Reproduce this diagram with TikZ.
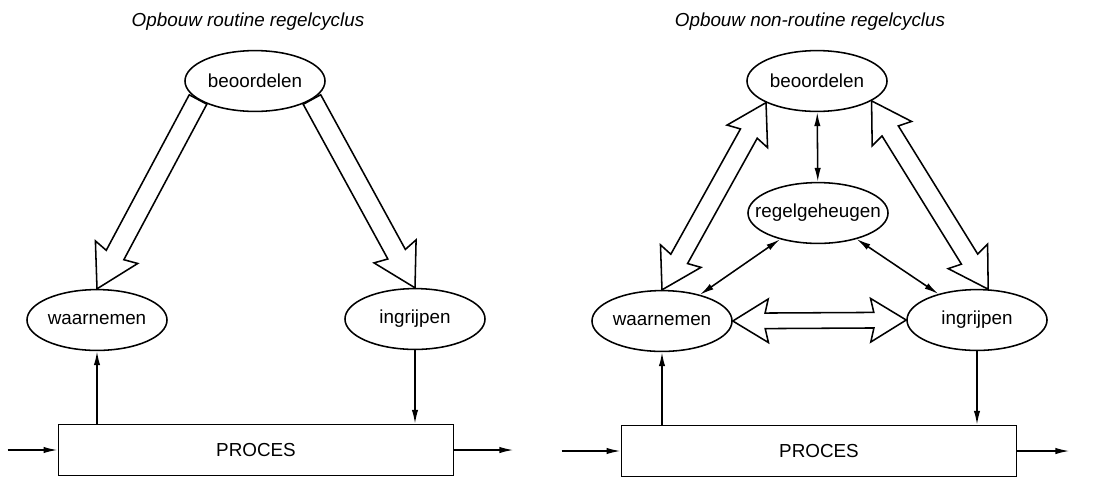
\documentclass[tikz,border=0pt]{standalone}
\usepackage{fontspec}
\setmainfont{Liberation Sans}
\usepackage{tikz}
\usetikzlibrary{arrows.meta,shapes.geometric,shapes.arrows,calc}

% hollow arrow from #1 to #2
\newcommand{\fatarrow}[2]{%
  \path let \p1=($(#2)-(#1)$), \n1={atan2(\y1,\x1)}, \n2={veclen(\x1,\y1)} in
    (#1) node[fat, anchor=tail, rotate=\n1, minimum height=\n2] {};}
% hollow arrow with two heads
\newcommand{\fatboth}[3][]{%
  \path let \p1=($(#3)-(#2)$), \n1={atan2(\y1,\x1)}, \n2={veclen(\x1,\y1)} in
    ($(#2)!0.5!(#3)$) node[fatdouble, #1, rotate=\n1, minimum height=\n2] {};}

\begin{document}
\begin{tikzpicture}[x=0.025cm, y=-0.025cm, line width=1.1pt]
\tikzstyle{every node}=[font=\fontsize{13.4}{15}\selectfont];
\tikzstyle{act}=[draw, ellipse, minimum width=3.5cm, minimum height=1.52cm, inner xsep=-0.4cm, inner ysep=0pt];
\tikzstyle{box}=[draw, rectangle, minimum width=9.88cm, minimum height=1.27cm];
\tikzstyle{title}=[font=\fontsize{13.4}{15}\selectfont\itshape];
\tikzstyle{fat}=[single arrow, draw, fill=white, inner xsep=0pt, inner ysep=0.23cm, outer sep=0pt,
  single arrow head extend=0.35cm, single arrow tip angle=60, single arrow head indent=0.08cm];
\tikzstyle{fatdouble}=[double arrow, draw, fill=white, inner xsep=0pt, inner ysep=0.22cm, outer sep=0pt,
  double arrow head extend=0.34cm, double arrow tip angle=62, double arrow head indent=0.08cm];
\tikzstyle{flow}=[-{Latex[length=3.5mm,width=1.6mm]}];
\tikzstyle{both}=[{Latex[length=3.5mm,width=1.6mm]}-{Latex[length=3.5mm,width=1.6mm]}];
\useasboundingbox (0,0) rectangle (1098,476);

% routine
\path (248,22) node[title] (tL) {Opbouw routine regelcyclus};
\path (255,81) node[act] (beoL) {beoordelen};
\path (97,320) node[act] (waarL) {waarnemen};
\path (415,319) node[act] (ingrL) {ingrijpen};
\path (256,450) node[box] (procL) {PROCES};
\coordinate (inL) at ($(procL.west)+(-50,0)$);
\coordinate (outL) at ($(procL.east)+(59,0)$);
\fatarrow{beoL.198}{waarL.north}
\fatarrow{beoL.342}{ingrL.north}
\draw[flow] (inL) -- (procL.west);
\draw[flow] (procL.east) -- (outL);
\draw[flow] (procL.north -| waarL) -- (waarL.south);
\draw[flow] (ingrL.south) -- (procL.north -| ingrL);

% non-routine
\path (810,22) node[title] (tR) {Opbouw non-routine regelcyclus};
\path (817,81) node[act] (beoR) {beoordelen};
\path (818,213) node[act] (regR) {regelgeheugen};
\path (662,321) node[act] (waarR) {waarnemen};
\path (977,320) node[act] (ingrR) {ingrijpen};
\path (819,451) node[box] (procR) {PROCES};
\coordinate (inR) at ($(procR.west)+(-59,0)$);
\coordinate (outR) at ($(procR.east)+(52,0)$);
\fatboth{waarR.north}{beoR.203}
\fatboth{ingrR.70}{beoR.340}
\fatboth[inner ysep=0.175cm, double arrow head extend=0.35cm, double arrow tip angle=63]{waarR.east}{ingrR.west}
\draw[both] (beoR) -- (regR);
\draw[both] (regR) -- (waarR);
\draw[both] (regR) -- (ingrR);
\draw[flow] (inR) -- (procR.west);
\draw[flow] (procR.east) -- (outR);
\draw[flow] (procR.north -| waarR) -- (waarR.south);
\draw[flow] (ingrR.south) -- (procR.north -| ingrR);
\end{tikzpicture}
\end{document}
